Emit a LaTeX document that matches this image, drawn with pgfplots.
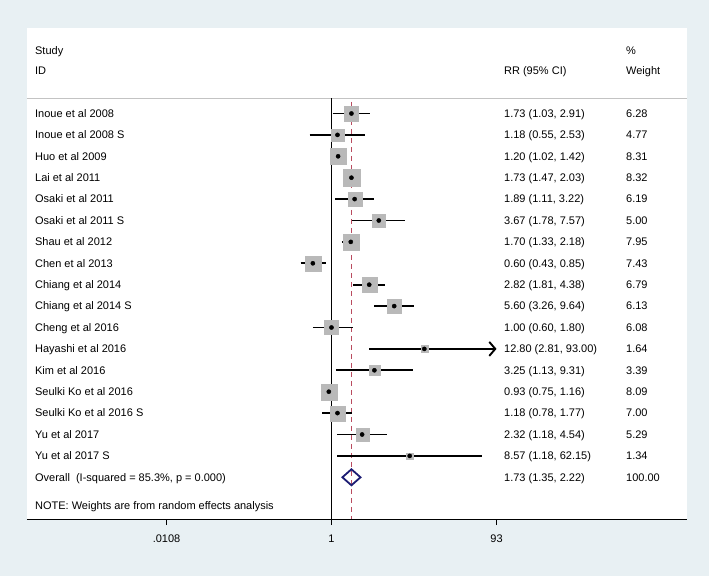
\documentclass[border=0pt]{standalone}
\usepackage{pgfplots}
\pgfplotsset{compat=1.18}
\usepackage{pgfplotstable}
\usepackage{fontspec}
\setmainfont{Liberation Sans}
\usetikzlibrary{arrows.meta}
\definecolor{bgc}{RGB}{232,240,243}
\definecolor{sqgray}{RGB}{185,185,185}
\definecolor{refred}{RGB}{185,75,95}
\definecolor{dnavy}{RGB}{28,28,115}
\definecolor{sepgray}{RGB}{195,195,195}

\pgfplotstableread{
row est lo hi w
1 1.73 1.03 2.91 6.28
2 1.18 0.55 2.53 4.77
3 1.20 1.02 1.42 8.31
4 1.73 1.47 2.03 8.32
5 1.89 1.11 3.22 6.19
6 3.67 1.78 7.57 5.00
7 1.70 1.33 2.18 7.95
8 0.60 0.43 0.85 7.43
9 2.82 1.81 4.38 6.79
10 5.60 3.26 9.64 6.13
11 1.00 0.60 1.80 6.08
12 12.80 2.81 93.00 1.64
13 3.25 1.13 9.31 3.39
14 0.93 0.75 1.16 8.09
15 1.18 0.78 1.77 7.00
16 2.32 1.18 4.54 5.29
17 8.57 1.18 62.15 1.34
}\studies

\newcommand{\frow}[4]{%
  \node[txt] at (axis cs:2.91e-4,#1) {#2};
  \node[txt] at (axis cs:114,#1) {#3};
  \node[txt] at (axis cs:3250,#1) {#4};}

\begin{document}
\begin{tikzpicture}[txt/.style={anchor=base west, inner sep=0pt, yshift=-3.9bp, font=\fontsize{11bp}{13bp}\selectfont}]
\fill[bgc] (0,0) rectangle (709bp,576bp);
\begin{axis}[
  at={(357bp,302.5bp)}, anchor=center,
  scale only axis, width=660bp, height=491bp,
  xmode=log, xmin=2.34e-4, xmax=17372,
  ymin=-2.995, ymax=19.949, y dir=reverse,
  axis background/.style={fill=white},
  axis x line*=bottom, axis y line=none,
  xtick={0.0108,1,93}, xticklabels={.0108,1,93},
  tick align=outside, major tick length=6bp,
  x tick style={black, line width=0.8bp},
  x axis line style={black, line width=0.8bp},
  xticklabel style={font=\fontsize{11bp}{13bp}\selectfont, yshift=-6bp},
  ytick=\empty,
  clip=false,
  ci/.style={black, line width=1.9bp},
]
% header separator
\addplot[sepgray, line width=0.8bp] coordinates {(2.34e-4,0.276) (17372,0.276)};
% null line
\addplot[black, line width=0.8bp] coordinates {(1,0.276) (1,19.949)};
% overall reference line
\addplot[refred, line width=0.8bp, dash pattern=on 5bp off 4bp] coordinates {(1.73,0.46) (1.73,19.949)};
% weight boxes
\addplot[scatter, only marks, mark=square*, point meta=explicit,
  mark options={line width=0.1bp},
  scatter/use mapped color={draw=sqgray, fill=sqgray},
  visualization depends on={2.85*sqrt(\thisrow{w}) \as \msz},
  scatter/@pre marker code/.append style={/tikz/mark size=\msz}]
  table[x=est, y=row, meta=w] \studies;
% confidence intervals
\addplot[ci] coordinates {(1.03,1) (2.91,1)};
\addplot[ci] coordinates {(0.55,2) (2.53,2)};
\addplot[ci] coordinates {(1.02,3) (1.42,3)};
\addplot[ci] coordinates {(1.47,4) (2.03,4)};
\addplot[ci] coordinates {(1.11,5) (3.22,5)};
\addplot[ci] coordinates {(1.78,6) (7.57,6)};
\addplot[ci] coordinates {(1.33,7) (2.18,7)};
\addplot[ci] coordinates {(0.43,8) (0.85,8)};
\addplot[ci] coordinates {(1.81,9) (4.38,9)};
\addplot[ci] coordinates {(3.26,10) (9.64,10)};
\addplot[ci] coordinates {(0.60,11) (1.80,11)};
\addplot[ci, -{Straight Barb[length=6bp,width=14bp]}] coordinates {(2.81,12) (93.00,12)};
\addplot[ci] coordinates {(1.13,13) (9.31,13)};
\addplot[ci] coordinates {(0.75,14) (1.16,14)};
\addplot[ci] coordinates {(0.78,15) (1.77,15)};
\addplot[ci] coordinates {(1.18,16) (4.54,16)};
\addplot[ci] coordinates {(1.18,17) (62.15,17)};
% point estimates
\addplot[only marks, mark=*, mark size=2.1bp, black] table[x=est, y=row] \studies;
% overall diamond
\addplot[dnavy, line width=1.8bp, line join=miter] coordinates {(1.35,18) (1.73,17.626) (2.22,18) (1.73,18.374) (1.35,18) (1.73,17.626)};
% text
\node[txt] at (axis cs:2.91e-4,-1.92) {Study};
\node[txt] at (axis cs:2.91e-4,-0.986) {ID};
\node[txt] at (axis cs:114,-0.986) {RR (95\% CI)};
\node[txt] at (axis cs:3250,-1.92) {\%};
\node[txt] at (axis cs:3250,-0.986) {Weight};
\frow{1}{Inoue et al 2008}{1.73 (1.03, 2.91)}{6.28}
\frow{2}{Inoue et al 2008 S}{1.18 (0.55, 2.53)}{4.77}
\frow{3}{Huo et al 2009}{1.20 (1.02, 1.42)}{8.31}
\frow{4}{Lai et al 2011}{1.73 (1.47, 2.03)}{8.32}
\frow{5}{Osaki et al 2011}{1.89 (1.11, 3.22)}{6.19}
\frow{6}{Osaki et al 2011 S}{3.67 (1.78, 7.57)}{5.00}
\frow{7}{Shau et al 2012}{1.70 (1.33, 2.18)}{7.95}
\frow{8}{Chen et al 2013}{0.60 (0.43, 0.85)}{7.43}
\frow{9}{Chiang et al 2014}{2.82 (1.81, 4.38)}{6.79}
\frow{10}{Chiang et al 2014 S}{5.60 (3.26, 9.64)}{6.13}
\frow{11}{Cheng et al 2016}{1.00 (0.60, 1.80)}{6.08}
\frow{12}{Hayashi et al 2016}{12.80 (2.81, 93.00)}{1.64}
\frow{13}{Kim et al 2016}{3.25 (1.13, 9.31)}{3.39}
\frow{14}{Seulki Ko et al 2016}{0.93 (0.75, 1.16)}{8.09}
\frow{15}{Seulki Ko et al 2016 S}{1.18 (0.78, 1.77)}{7.00}
\frow{16}{Yu et al 2017}{2.32 (1.18, 4.54)}{5.29}
\frow{17}{Yu et al 2017 S}{8.57 (1.18, 62.15)}{1.34}
\frow{18}{Overall\ \ (I-squared = 85.3\%, p = 0.000)}{1.73 (1.35, 2.22)}{100.00}
\node[txt] at (axis cs:2.91e-4,19.3) {NOTE: Weights are from random effects analysis};
\end{axis}
\end{tikzpicture}
\end{document}
